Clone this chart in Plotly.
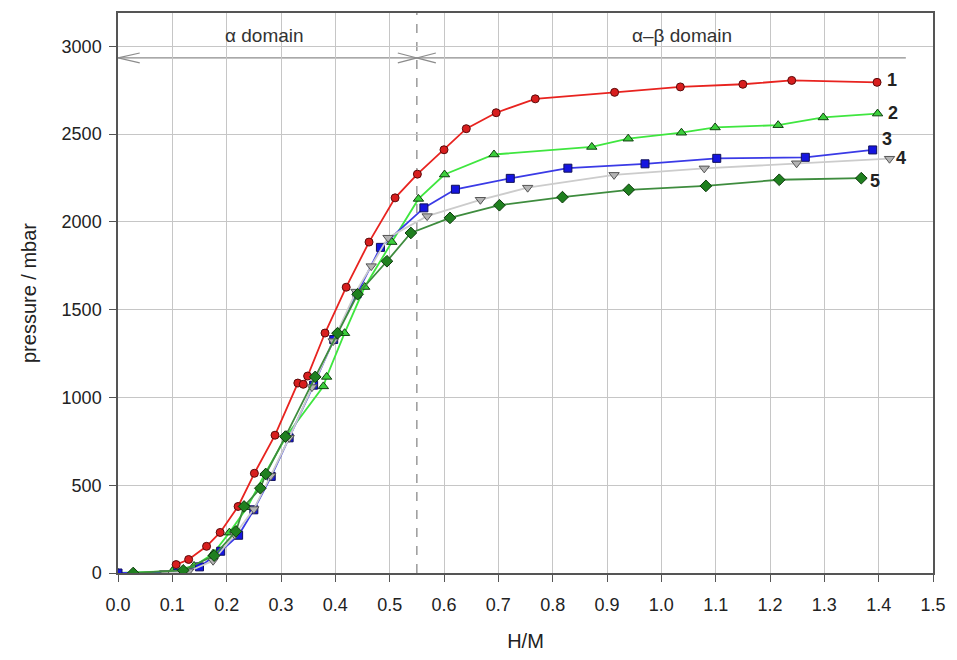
import plotly.graph_objects as go

# Pressure-composition isotherms, H/M vs pressure (mbar)
hm_1 = [0.107, 0.13, 0.163, 0.188, 0.221, 0.251, 0.289, 0.331, 0.341, 0.349, 0.381, 0.42, 0.462,
        0.51, 0.551, 0.6, 0.641, 0.696, 0.768, 0.914, 1.035, 1.15, 1.24, 1.397]
p_1 = [48, 77, 152, 231, 379, 568, 785, 1082, 1075, 1122, 1367, 1628, 1885,
       2137, 2272, 2411, 2531, 2622, 2701, 2738, 2769, 2784, 2806, 2795]

hm_2 = [0.0, 0.1, 0.14, 0.175, 0.205, 0.238, 0.271, 0.311, 0.378, 0.384, 0.417, 0.454, 0.504,
        0.553, 0.601, 0.692, 0.872, 0.939, 1.037, 1.099, 1.215, 1.298, 1.398]
p_2 = [0, 10, 40, 110, 230, 375, 568, 785, 1063, 1117, 1366, 1629, 1885,
       2131, 2270, 2384, 2427, 2474, 2508, 2538, 2551, 2595, 2617]

hm_3 = [0.0, 0.11, 0.15, 0.189, 0.222, 0.25, 0.282, 0.315, 0.36, 0.397, 0.44, 0.483,
        0.563, 0.621, 0.722, 0.828, 0.97, 1.102, 1.265, 1.389]
p_3 = [0, 0, 35, 124, 215, 360, 550, 770, 1070, 1330, 1590, 1855,
       2080, 2186, 2248, 2306, 2331, 2362, 2368, 2410]

hm_4 = [0.086, 0.13, 0.175, 0.215, 0.25, 0.281, 0.315, 0.357, 0.396, 0.438, 0.466, 0.497,
        0.569, 0.667, 0.754, 0.913, 1.079, 1.249, 1.42]
p_4 = [0, 10, 70, 218, 364, 553, 770, 1059, 1321, 1603, 1748, 1910,
       2033, 2126, 2195, 2268, 2305, 2334, 2360]

hm_5 = [0.028, 0.12, 0.177, 0.217, 0.232, 0.262, 0.272, 0.308, 0.363, 0.404, 0.441, 0.495,
        0.539, 0.611, 0.702, 0.818, 0.94, 1.082, 1.217, 1.368]
p_5 = [0, 15, 99, 237, 379, 483, 564, 777, 1117, 1366, 1588, 1776,
       1937, 2023, 2095, 2141, 2183, 2205, 2240, 2249]

curve_names = ["1", "2", "3", "4", "5"]
label_x = [1.425, 1.427, 1.415, 1.442, 1.394]
label_y = [2807, 2618, 2470, 2363, 2235]

x_ticks = [round(0.1 * i, 1) for i in range(16)]
y_ticks = [0, 500, 1000, 1500, 2000, 2500, 3000]

boundary_hm = 0.55
arrow_p = 2934

styles = [
    dict(line="#e8231f", fill="#d81e1e", edge="#5a0a0a", symbol="circle", size=8),
    dict(line="#3fe63f", fill="#3ccf3c", edge="#0f3f0f", symbol="triangle-up", size=9),
    dict(line="#3a3ae6", fill="#1515e0", edge="#10105a", symbol="square", size=8),
    dict(line="#cccccc", fill="#b4b4b4", edge="#555555", symbol="triangle-down", size=9),
    dict(line="#3e8c3e", fill="#1f801f", edge="#0c3a0c", symbol="diamond", size=9),
]

series = [(hm_1, p_1), (hm_2, p_2), (hm_3, p_3), (hm_4, p_4), (hm_5, p_5)]

fig = go.Figure()

# dashed phase boundary
fig.add_shape(type="line", x0=boundary_hm, x1=boundary_hm, y0=0, y1=1, yref="y domain",
              line=dict(color="#9a9a9a", width=1.5, dash="dash"), layer="below")

# domain arrow line with open heads
dx_head = 0.04
dy_head = 28
fig.add_shape(type="line", x0=0, x1=1.45, y0=arrow_p, y1=arrow_p,
              line=dict(color="#8c8c8c", width=1.2), layer="below")
for path in [
    f"M {dx_head},{arrow_p + dy_head} L 0,{arrow_p} L {dx_head},{arrow_p - dy_head}",
    f"M {boundary_hm - 0.035},{arrow_p + dy_head} L {boundary_hm},{arrow_p} L {boundary_hm - 0.035},{arrow_p - dy_head}",
    f"M {boundary_hm + 0.035},{arrow_p + dy_head} L {boundary_hm},{arrow_p} L {boundary_hm + 0.035},{arrow_p - dy_head}",
]:
    fig.add_shape(type="path", path=path, line=dict(color="#8c8c8c", width=1.2), layer="below")

for (xs, ys), st, name in zip(series, styles, curve_names):
    fig.add_trace(go.Scatter(
        x=xs, y=ys, mode="lines+markers", name=name,
        line=dict(color=st["line"], width=1.8),
        marker=dict(symbol=st["symbol"], size=st["size"], color=st["fill"],
                    line=dict(color=st["edge"], width=1)),
        showlegend=False,
    ))

font_main = "Liberation Sans, Arial, sans-serif"

for name, lx, ly in zip(curve_names, label_x, label_y):
    fig.add_annotation(x=lx, y=ly, text=f"<b>{name}</b>", showarrow=False,
                       font=dict(size=18, color="#222222", family=font_main))

fig.add_annotation(x=0.269, y=3064, text="α domain", showarrow=False,
                   font=dict(size=19, color="#333333", family=font_main))
fig.add_annotation(x=1.038, y=3064, text="α–β domain", showarrow=False,
                   font=dict(size=19, color="#333333", family=font_main))

axis_common = dict(
    showgrid=True, gridcolor="#c6c6c6", gridwidth=1.3,
    showline=True, linecolor="#555555", linewidth=1.5, mirror=True,
    ticks="outside", ticklen=7, tickcolor="#555555", tickwidth=1.2,
    zeroline=False,
    tickfont=dict(size=18, color="#222222", family=font_main),
)

fig.update_xaxes(range=[0, 1.5], tickvals=x_ticks, ticktext=[f"{v:.1f}" for v in x_ticks],
                 ticklabelstandoff=8,
                 title=dict(text="H/M", font=dict(size=20, color="#222222", family=font_main),
                            standoff=20),
                 **axis_common)
fig.update_yaxes(range=[0, 3190], tickvals=y_ticks,
                 ticklabelstandoff=4,
                 title=dict(text="pressure / mbar", font=dict(size=20, color="#222222", family=font_main),
                            standoff=20),
                 **axis_common)

fig.update_layout(
    width=957, height=660,
    margin=dict(l=118, r=17, t=11, b=87),
    plot_bgcolor="white", paper_bgcolor="white",
)

fig.write_html("out.html")
